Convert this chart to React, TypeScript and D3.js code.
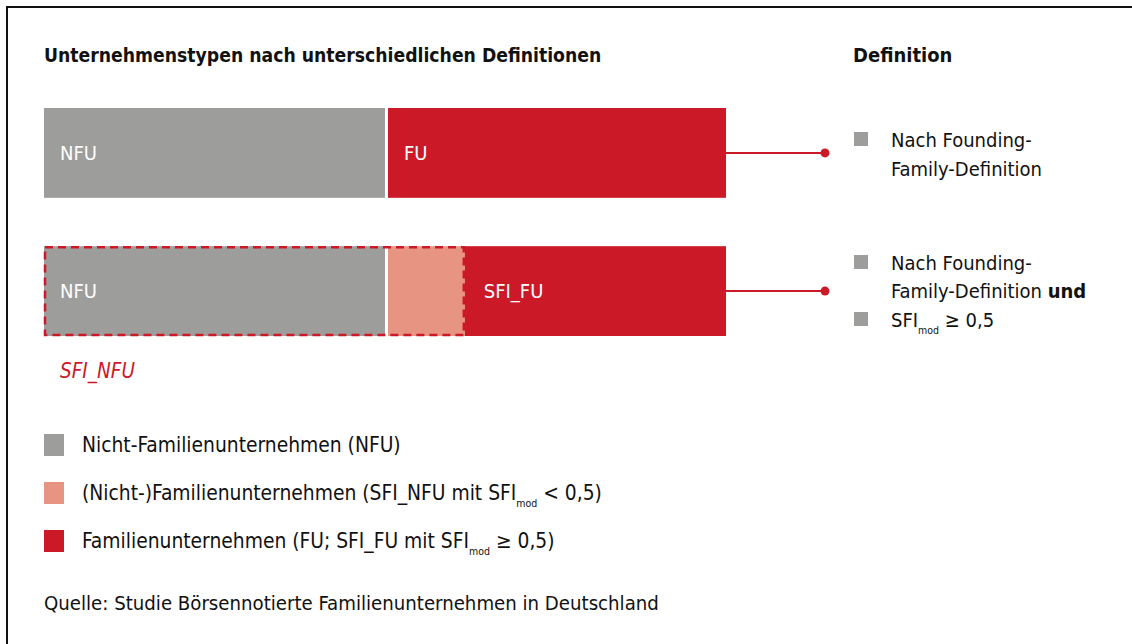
import { useMemo } from 'react';
import * as d3 from 'd3';

// rows of the stacked bars (shares in %)
const rowNames = ['founding', 'sfi'];
const segKeys = ['NFU', 'SFI_NFU', 'FU'];
const rowNFU = [50, 50];
const rowSFINFU = [0, 11.7];
const rowFU = [50, 38.3];
const barLabels = [
  ['NFU', '', 'FU'],
  ['NFU', '', 'SFI_FU'],
];

const legendItems = [
  { key: 'NFU', text: 'Nicht-Familienunternehmen (NFU)', sub: null as null | [string, string, string] },
  { key: 'SFI_NFU', text: '', sub: ['(Nicht-)Familienunternehmen (SFI_NFU mit SFI', 'mod', ' < 0,5)'] as [string, string, string] },
  { key: 'FU', text: '', sub: ['Familienunternehmen (FU; SFI_FU mit SFI', 'mod', ' ≥ 0,5)'] as [string, string, string] },
];

const colors: Record<string, string> = {
  NFU: '#9d9d9c',
  SFI_NFU: '#e79582',
  FU: '#cb1928',
};

const FONT = '"Liberation Sans Narrow", "DejaVu Sans Condensed", "Open Sans", sans-serif';
const W = 1132;
const H = 644;

export default function App() {
  const x = useMemo(() => d3.scaleLinear().domain([0, 100]).range([44, 726]), []);
  const y = useMemo(
    () => d3.scaleBand().domain(rowNames).range([108, 336]).paddingInner(0.35),
    []
  );

  const stacked = useMemo(() => {
    const table = rowNames.map((r, i) => ({
      row: r,
      NFU: rowNFU[i],
      SFI_NFU: rowSFINFU[i],
      FU: rowFU[i],
    }));
    return d3.stack<any>().keys(segKeys)(table);
  }, []);

  const gap = 3;
  const bh = y.bandwidth();

  return (
    <div style={{ position: 'absolute', left: 0, top: 0 }}>
      <svg width={W} height={H} style={{ display: 'block', fontFamily: FONT }}>
        <rect width={W} height={H} fill="#fff" />
        {/* frame */}
        <line x1={6} x2={W} y1={7} y2={7} stroke="#111" strokeWidth={2} />
        <line x1={7} x2={7} y1={6} y2={H} stroke="#111" strokeWidth={2} />

        <text x={44} y={62} fontSize={19.2} fontWeight="bold" fill="#111">
          Unternehmenstypen nach unterschiedlichen Definitionen
        </text>
        <text x={853} y={62} fontSize={20} fontWeight="bold" fill="#111">
          Definition
        </text>

        {/* bars */}
        {stacked.map((series, si) =>
          series.map((d, ri) => {
            const w = d[1] - d[0];
            if (w <= 0) return null;
            const x0 = x(d[0]) + (si > 0 && d[0] === rowNFU[ri] ? gap : 0);
            const x1 = x(d[1]);
            return (
              <rect
                key={`${series.key}-${ri}`}
                x={x0}
                y={y(rowNames[ri])!}
                width={x1 - x0}
                height={bh}
                fill={colors[series.key]}
              />
            );
          })
        )}
        {/* bar labels */}
        {stacked.map((series, si) =>
          series.map((d, ri) => {
            const label = barLabels[ri][si];
            if (!label) return null;
            const x0 = x(d[0]) + (si > 0 ? gap : 0);
            return (
              <text
                key={`l-${series.key}-${ri}`}
                x={x0 + 16}
                y={y(rowNames[ri])! + bh / 2 + 7}
                fontSize={20}
                fill="#fff"
              >
                {label}
              </text>
            );
          })
        )}

        {/* dashed SFI_NFU frame */}
        <rect
          x={x(0) + 1}
          y={y('sfi')! + 1}
          width={x(rowNFU[1] + rowSFINFU[1]) - x(0) - 2}
          height={bh - 2}
          fill="none"
          stroke={colors.FU}
          strokeWidth={2.5}
          strokeDasharray="8,5"
        />
        <text x={60} y={y('sfi')! + bh + 42} fontSize={20.5} fontStyle="italic" fill={colors.FU}>
          SFI_NFU
        </text>

        {/* connectors */}
        {rowNames.map((r) => {
          const cy = y(r)! + bh / 2;
          return (
            <g key={`c-${r}`}>
              <line x1={x(100)} x2={825} y1={cy} y2={cy} stroke={colors.FU} strokeWidth={2} />
              <circle cx={825} cy={cy} r={4.5} fill={colors.FU} />
            </g>
          );
        })}

        {/* definitions */}
        <g fontSize={20} fill="#111">
          <rect x={854} y={132} width={14} height={14} fill={colors.NFU} />
          <text x={891} y={147}>Nach Founding-</text>
          <text x={891} y={176}>Family-Definition</text>

          <rect x={854} y={255} width={14} height={14} fill={colors.NFU} />
          <text x={891} y={270}>Nach Founding-</text>
          <text x={891} y={298}>
            Family-Definition <tspan fontWeight="bold">und</tspan>
          </text>
          <rect x={854} y={312} width={14} height={14} fill={colors.NFU} />
          <text x={891} y={327}>
            SFI<tspan fontSize={10.5} dy={7}>mod</tspan>
            <tspan dy={-7}> ≥ 0,5</tspan>
          </text>
        </g>

        {/* legend */}
        <g fontSize={20.8} fill="#111">
          {legendItems.map((it, i) => {
            const ly = 434 + i * 48;
            return (
              <g key={it.key}>
                <rect x={44} y={ly} width={20} height={22} fill={colors[it.key]} />
                <text x={82} y={ly + 18}>
                  {it.sub ? (
                    <>
                      {it.sub[0]}
                      <tspan fontSize={10.5} dy={7}>{it.sub[1]}</tspan>
                      <tspan dy={-7}>{it.sub[2]}</tspan>
                    </>
                  ) : (
                    it.text
                  )}
                </text>
              </g>
            );
          })}
        </g>

        <text x={44} y={610} fontSize={20.2} fill="#111">
          Quelle: Studie Börsennotierte Familienunternehmen in Deutschland
        </text>
      </svg>
    </div>
  );
}
